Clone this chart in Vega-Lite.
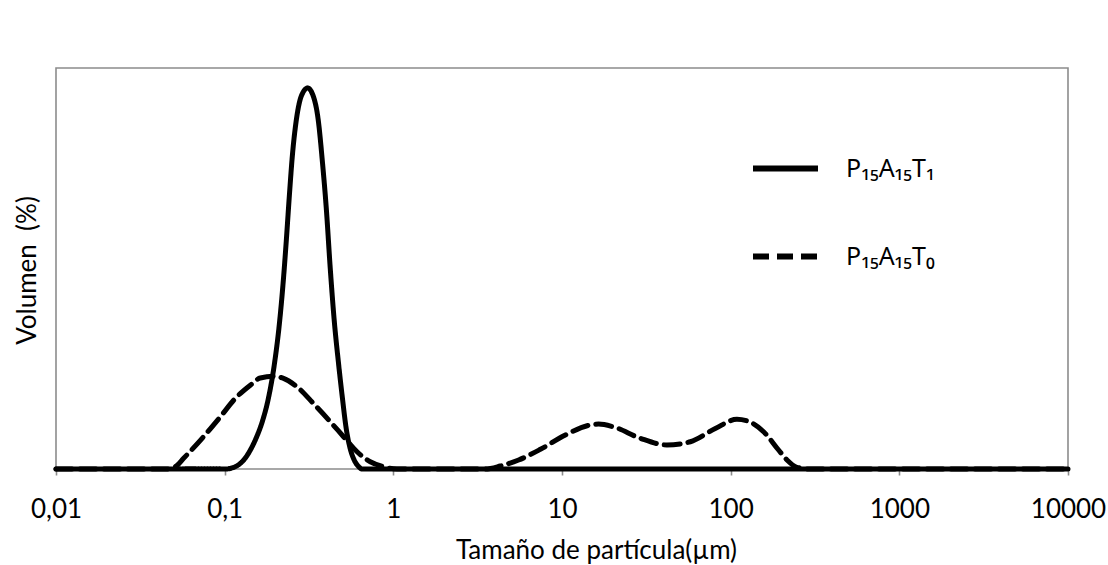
{
  "$schema": "https://vega.github.io/schema/vega-lite/v6.json",
  "width": 1012,
  "height": 401,
  "autosize": "none",
  "padding": {"left": 56, "top": 68, "right": 40, "bottom": 96},
  "background": "white",
  "config": {
    "font": "Lato",
    "view": {"stroke": "#8c8c8c", "strokeWidth": 1.6}
  },
  "data": {
    "values": [
      {"s": "P₁₅A₁₅T₀", "x": 0.01, "v": 0},
      {"s": "P₁₅A₁₅T₀", "x": 0.045, "v": 0},
      {"s": "P₁₅A₁₅T₀", "x": 0.0509, "v": 0.57},
      {"s": "P₁₅A₁₅T₀", "x": 0.0571, "v": 2.67},
      {"s": "P₁₅A₁₅T₀", "x": 0.0735, "v": 7.65},
      {"s": "P₁₅A₁₅T₀", "x": 0.0942, "v": 13.0},
      {"s": "P₁₅A₁₅T₀", "x": 0.1156, "v": 17.6},
      {"s": "P₁₅A₁₅T₀", "x": 0.1419, "v": 20.9},
      {"s": "P₁₅A₁₅T₀", "x": 0.1626, "v": 22.7},
      {"s": "P₁₅A₁₅T₀", "x": 0.195, "v": 23.1},
      {"s": "P₁₅A₁₅T₀", "x": 0.2234, "v": 22.6},
      {"s": "P₁₅A₁₅T₀", "x": 0.2685, "v": 20.5},
      {"s": "P₁₅A₁₅T₀", "x": 0.3365, "v": 16.3},
      {"s": "P₁₅A₁₅T₀", "x": 0.4227, "v": 11.8},
      {"s": "P₁₅A₁₅T₀", "x": 0.507, "v": 8.05},
      {"s": "P₁₅A₁₅T₀", "x": 0.6095, "v": 4.3},
      {"s": "P₁₅A₁₅T₀", "x": 0.7295, "v": 1.8},
      {"s": "P₁₅A₁₅T₀", "x": 0.875, "v": 0.57},
      {"s": "P₁₅A₁₅T₀", "x": 1.05, "v": 0},
      {"s": "P₁₅A₁₅T₀", "x": 3.51, "v": 0},
      {"s": "P₁₅A₁₅T₀", "x": 4.31, "v": 0.75},
      {"s": "P₁₅A₁₅T₀", "x": 5.53, "v": 2.24},
      {"s": "P₁₅A₁₅T₀", "x": 7.45, "v": 4.91},
      {"s": "P₁₅A₁₅T₀", "x": 10.47, "v": 8.48},
      {"s": "P₁₅A₁₅T₀", "x": 14.72, "v": 10.97},
      {"s": "P₁₅A₁₅T₀", "x": 16.48, "v": 11.2},
      {"s": "P₁₅A₁₅T₀", "x": 20.23, "v": 10.5},
      {"s": "P₁₅A₁₅T₀", "x": 29.11, "v": 7.66},
      {"s": "P₁₅A₁₅T₀", "x": 41.88, "v": 5.99},
      {"s": "P₁₅A₁₅T₀", "x": 57.68, "v": 6.8},
      {"s": "P₁₅A₁₅T₀", "x": 81.1, "v": 10.1},
      {"s": "P₁₅A₁₅T₀", "x": 108.9, "v": 12.4},
      {"s": "P₁₅A₁₅T₀", "x": 125.0, "v": 12.0},
      {"s": "P₁₅A₁₅T₀", "x": 156.7, "v": 9.3},
      {"s": "P₁₅A₁₅T₀", "x": 192.3, "v": 4.74},
      {"s": "P₁₅A₁₅T₀", "x": 215.8, "v": 2.24},
      {"s": "P₁₅A₁₅T₀", "x": 247.2, "v": 0.42},
      {"s": "P₁₅A₁₅T₀", "x": 296.5, "v": 0},
      {"s": "P₁₅A₁₅T₀", "x": 10000, "v": 0},
      {"s": "P₁₅A₁₅T₁", "x": 0.01, "v": 0},
      {"s": "P₁₅A₁₅T₁", "x": 0.05, "v": 0},
      {"s": "P₁₅A₁₅T₁", "x": 0.095, "v": 0},
      {"s": "P₁₅A₁₅T₁", "x": 0.1023, "v": 0},
      {"s": "P₁₅A₁₅T₁", "x": 0.111, "v": 0.3},
      {"s": "P₁₅A₁₅T₁", "x": 0.1204, "v": 1.0},
      {"s": "P₁₅A₁₅T₁", "x": 0.1307, "v": 2.4},
      {"s": "P₁₅A₁₅T₁", "x": 0.1419, "v": 4.7},
      {"s": "P₁₅A₁₅T₁", "x": 0.154, "v": 7.8},
      {"s": "P₁₅A₁₅T₁", "x": 0.1671, "v": 11.8},
      {"s": "P₁₅A₁₅T₁", "x": 0.1814, "v": 17.5},
      {"s": "P₁₅A₁₅T₁", "x": 0.1969, "v": 26},
      {"s": "P₁₅A₁₅T₁", "x": 0.2108, "v": 36},
      {"s": "P₁₅A₁₅T₁", "x": 0.2227, "v": 47},
      {"s": "P₁₅A₁₅T₁", "x": 0.232, "v": 57},
      {"s": "P₁₅A₁₅T₁", "x": 0.2417, "v": 68},
      {"s": "P₁₅A₁₅T₁", "x": 0.2518, "v": 78},
      {"s": "P₁₅A₁₅T₁", "x": 0.2659, "v": 87},
      {"s": "P₁₅A₁₅T₁", "x": 0.2847, "v": 93},
      {"s": "P₁₅A₁₅T₁", "x": 0.3105, "v": 95.0},
      {"s": "P₁₅A₁₅T₁", "x": 0.3351, "v": 93},
      {"s": "P₁₅A₁₅T₁", "x": 0.3588, "v": 87},
      {"s": "P₁₅A₁₅T₁", "x": 0.379, "v": 77},
      {"s": "P₁₅A₁₅T₁", "x": 0.4004, "v": 65},
      {"s": "P₁₅A₁₅T₁", "x": 0.4227, "v": 50},
      {"s": "P₁₅A₁₅T₁", "x": 0.4463, "v": 37},
      {"s": "P₁₅A₁₅T₁", "x": 0.4714, "v": 27},
      {"s": "P₁₅A₁₅T₁", "x": 0.498, "v": 18},
      {"s": "P₁₅A₁₅T₁", "x": 0.5259, "v": 10},
      {"s": "P₁₅A₁₅T₁", "x": 0.5555, "v": 5},
      {"s": "P₁₅A₁₅T₁", "x": 0.5866, "v": 2.2},
      {"s": "P₁₅A₁₅T₁", "x": 0.6194, "v": 0.7},
      {"s": "P₁₅A₁₅T₁", "x": 0.654, "v": 0},
      {"s": "P₁₅A₁₅T₁", "x": 0.7, "v": 0},
      {"s": "P₁₅A₁₅T₁", "x": 1, "v": 0},
      {"s": "P₁₅A₁₅T₁", "x": 10000, "v": 0}
    ]
  },
  "encoding": {
    "x": {
      "field": "x",
      "type": "quantitative",
      "scale": {"type": "log", "domain": [0.01, 10000], "nice": false},
      "axis": {
        "values": [0.01, 0.1, 1, 10, 100, 1000, 10000],
        "labelExpr": "replace(toString(datum.value), '.', ',')",
        "grid": false,
        "domain": false,
        "ticks": true,
        "tickColor": "#8c8c8c",
        "tickWidth": 1.6,
        "tickSize": 6,
        "labelFontSize": 26,
        "labelColor": "black",
        "labelBaseline": "alphabetic",
        "labelPadding": 42,
        "labelFlush": false,
        "labelOverlap": false,
        "title": "Tamaño de partícula(µm)",
        "titleFontSize": 26,
        "titleFontWeight": "normal",
        "titleColor": "black",
        "titleBaseline": "alphabetic",
        "titleAlign": "center",
        "titleX": 540,
        "titleY": 89
      }
    },
    "y": {
      "field": "v",
      "type": "quantitative",
      "scale": {"domain": [0, 100], "nice": false, "zero": true},
      "axis": {
        "labels": false,
        "ticks": false,
        "domain": false,
        "grid": false,
        "title": "Volumen\u00a0\u00a0(%)",
        "titleFontSize": 26,
        "titleFontWeight": "normal",
        "titleColor": "black",
        "titleAngle": -90,
        "titleBaseline": "alphabetic",
        "titleAlign": "center",
        "titleX": -21,
        "titleY": 202
      }
    },
    "strokeDash": {
      "field": "s",
      "type": "nominal",
      "scale": {"domain": ["P₁₅A₁₅T₁", "P₁₅A₁₅T₀"], "range": [[1, 0], [16, 8]]},
      "legend": {
        "orient": "none",
        "legendX": 694,
        "legendY": 65,
        "padding": 0,
        "title": null,
        "symbolType": "stroke",
        "symbolSize": 4225,
        "symbolStrokeWidth": 6,
        "symbolStrokeColor": "black",
        "labelFont": "Noto Sans",
        "labelFontSize": 25,
        "labelColor": "black",
        "labelOffset": 25,
        "rowPadding": 39
      }
    }
  },
  "layer": [
    {
      "transform": [{"filter": "datum.s === 'P₁₅A₁₅T₀'"}],
      "mark": {"type": "line", "interpolate": "monotone", "color": "black", "strokeWidth": 5, "strokeCap": "round", "strokeJoin": "round", "strokeDash": [12, 12]}
    },
    {
      "transform": [{"filter": "datum.s === 'P₁₅A₁₅T₁'"}],
      "mark": {"type": "line", "interpolate": "monotone", "color": "black", "strokeWidth": 5, "strokeCap": "round", "strokeJoin": "round"}
    }
  ]
}
